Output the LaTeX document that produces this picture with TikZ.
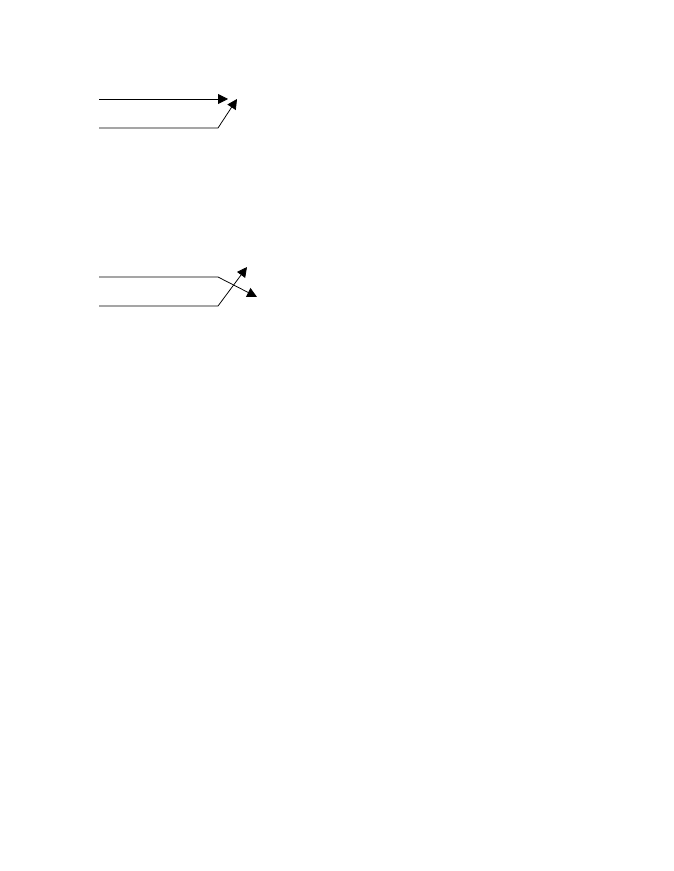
\documentclass[tikz,border=0pt]{standalone}
\usetikzlibrary{arrows.meta}

\begin{document}
\begin{tikzpicture}[x=0.9094pt, y=-0.9094pt, line width=0.7pt,
  tip/.style={-{Triangle[length=9pt,width=9pt]}}]
	\useasboundingbox (0,0) rectangle (673,871);

	% merging pair
	\coordinate (inA) at (99,99);
	\coordinate (outA) at (228,99);
	\coordinate (inB) at (99,128);
	\coordinate (bendB) at (218,128);
	\coordinate (outB) at (237,99);
	\draw[tip] (inA) -- (outA);
	\draw[tip] (inB) -- (bendB) -- (outB);

	% crossing pair
	\coordinate (inC) at (99,277);
	\coordinate (bendC) at (218,277);
	\coordinate (outC) at (257,297);
	\coordinate (inD) at (99,306);
	\coordinate (bendD) at (218,306);
	\coordinate (outD) at (247,267);
	\draw[tip] (inC) -- (bendC) -- (outC);
	\draw[tip] (inD) -- (bendD) -- (outD);
\end{tikzpicture}
\end{document}
